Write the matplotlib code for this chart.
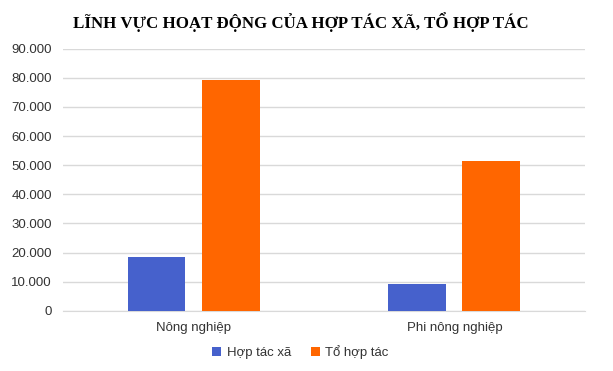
import numpy as np
import matplotlib.pyplot as plt
from matplotlib.ticker import FuncFormatter

# data
categories = ['Nông nghiệp', 'Phi nông nghiệp']
series_names = ['Hợp tác xã', 'Tổ hợp tác']
hop_tac_xa = [18650, 9300]
to_hop_tac = [79300, 51500]
colors = ['#4661CC', '#FF6600']

plt.rcParams['font.family'] = ['Liberation Sans', 'DejaVu Sans']

fig = plt.figure(figsize=(6.13, 3.71), dpi=100)
ax = fig.add_axes([0.103, 0.162, 0.851, 0.707])

x = np.arange(len(categories))
w = 0.222
off = 0.142
ax.bar(x - off, hop_tac_xa, w, color=colors[0], label=series_names[0], zorder=3)
ax.bar(x + off, to_hop_tac, w, color=colors[1], label=series_names[1], zorder=3)

ax.set_xlim(-0.5, 1.5)
ax.set_ylim(0, 90000)
ax.set_yticks(np.arange(0, 90001, 10000))
ax.yaxis.set_major_formatter(FuncFormatter(lambda v, p: f'{int(v):,}'.replace(',', '.')))
ax.set_xticks(x)
ax.set_xticklabels(categories)
ax.grid(axis='y', color='#D9D9D9', linewidth=1, zorder=0)
for s in ['top', 'right', 'left']:
    ax.spines[s].set_visible(False)
ax.spines['bottom'].set_color('#D9D9D9')
ax.tick_params(axis='both', length=0, labelsize=9.5, colors='#333333')
ax.tick_params(axis='y', pad=8)
ax.tick_params(axis='x', pad=8)

fig.text(0.49, 0.94, 'LĨNH VỰC HOẠT ĐỘNG CỦA HỢP TÁC XÃ, TỔ HỢP TÁC',
         ha='center', va='center', family='Liberation Serif', weight='bold', fontsize=12.2)

fig.legend(loc='center', bbox_to_anchor=(0.49, 0.05), ncol=2, frameon=False,
           prop={'size': 9.5}, handlelength=0.7, handleheight=0.7, handletextpad=0.4,
           columnspacing=1.5, labelcolor='#333333')

fig.savefig('out.png', dpi=100)
